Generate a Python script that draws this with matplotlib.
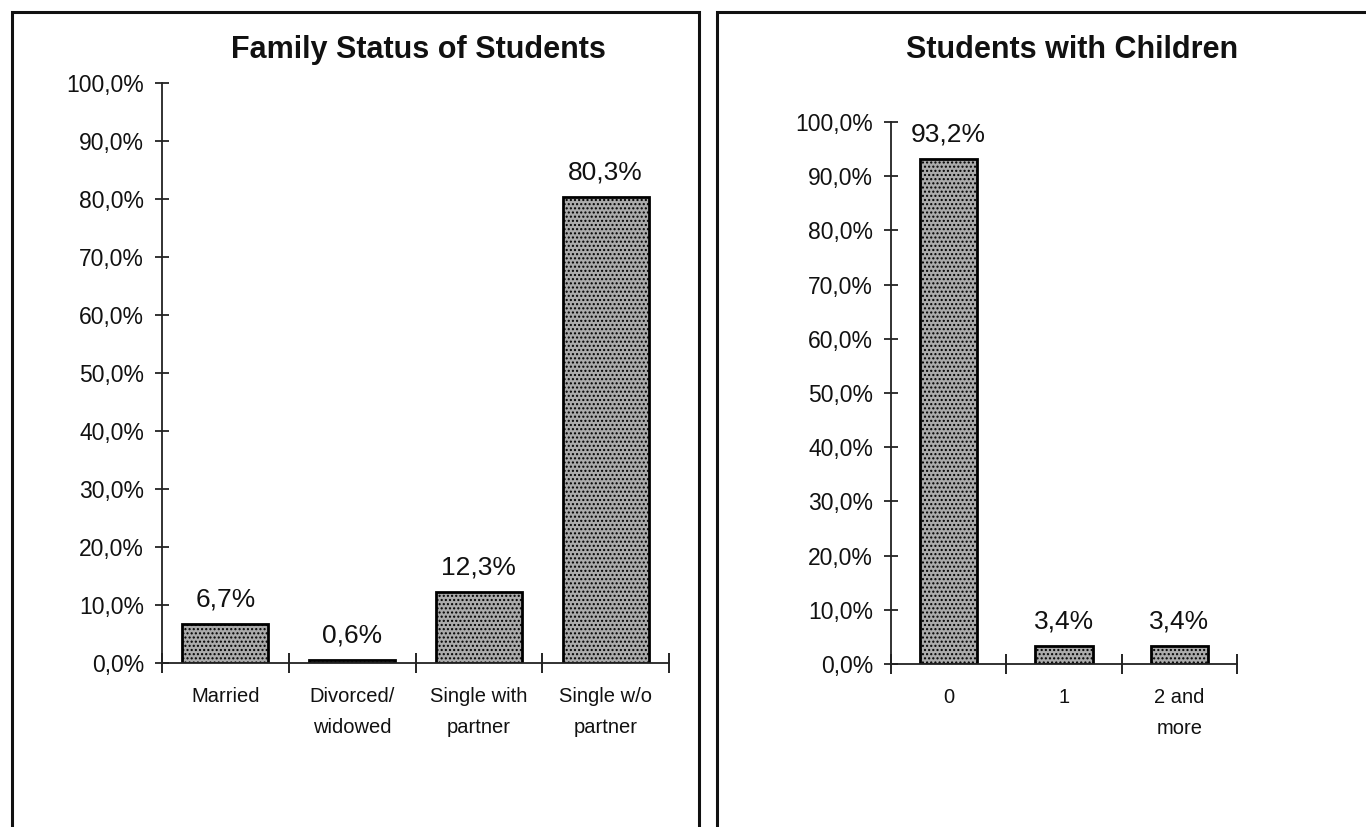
import matplotlib
matplotlib.use("Agg")
import matplotlib.pyplot as plt
from matplotlib.patches import Rectangle
from matplotlib.ticker import FixedLocator, FuncFormatter

plt.rcParams["font.family"] = ["Liberation Sans", "DejaVu Sans"]
plt.rcParams["hatch.linewidth"] = 1.0

# Survey results (share of respondents, %)
family_categories = ["Married", "Divorced/\nwidowed", "Single with\npartner", "Single w/o\npartner"]
family_share = [6.7, 0.6, 12.3, 80.3]

children_categories = ["0", "1", "2 and\nmore"]
children_share = [93.2, 3.4, 3.4]

y_ticks = list(range(0, 101, 10))

W, H = 1366, 827
fig = plt.figure(figsize=(W / 100, H / 100), dpi=100)
fig.patch.set_facecolor("white")


def px_rect(x0, y0, x1, y1):
    """Convert pixel box (top-left origin) to figure fractions [l, b, w, h]."""
    return [x0 / W, 1 - y1 / H, (x1 - x0) / W, (y1 - y0) / H]


def pct(v, _=None):
    return f"{v:.1f}".replace(".", ",") + "%"


def draw_panel(ax, cats, vals, bar_width):
    n = len(cats)
    xs = list(range(n))
    ax.bar(xs, vals, width=bar_width, facecolor="#ababab", edgecolor="black",
           linewidth=2.0, hatch="....", zorder=2)
    ax.set_xlim(-0.5, n - 0.5)
    ax.set_ylim(0, 100)
    ax.spines[["top", "right"]].set_visible(False)
    for s in ("left", "bottom"):
        ax.spines[s].set_linewidth(1.3)
        ax.spines[s].set_color("#222222")
    ax.yaxis.set_major_locator(FixedLocator(y_ticks))
    ax.yaxis.set_major_formatter(FuncFormatter(pct))
    ax.tick_params(axis="y", direction="inout", length=10, width=1.2,
                   labelsize=16.5, pad=8, colors="#111111")
    ax.set_xticks(xs)
    ax.set_xticklabels(cats, fontsize=14.5, linespacing=1.85)
    ax.set_xticks([i - 0.5 for i in range(n + 1)], minor=True)
    ax.tick_params(axis="x", which="major", length=0, pad=17, colors="#111111")
    ax.tick_params(axis="x", which="minor", direction="inout", length=14, width=1.2)
    for x, v in zip(xs, vals):
        ax.annotate(pct(v), (x, v), xytext=(0, 9), textcoords="offset points",
                    ha="center", va="bottom", fontsize=19, color="#111111")


ax1 = fig.add_axes(px_rect(162, 83, 669, 663))
draw_panel(ax1, family_categories, family_share, 0.68)

ax2 = fig.add_axes(px_rect(891, 122, 1237, 664))
draw_panel(ax2, children_categories, children_share, 0.5)

# Panel titles
fig.text(418 / W, 1 - 50 / H, "Family Status of Students", ha="center", va="center",
         fontsize=22, fontweight="bold", color="#111111")
fig.text(1072 / W, 1 - 50 / H, "Students with Children", ha="center", va="center",
         fontsize=22, fontweight="bold", color="#111111")

# Panel frames
for x0, x1 in ((12, 699), (717, 1380)):
    fig.add_artist(Rectangle((x0 / W, -0.05), (x1 - x0) / W, 1.05 - 12 / H,
                             transform=fig.transFigure, fill=False,
                             edgecolor="#111111", linewidth=2.2))

fig.savefig("out.png", dpi=100, facecolor="white")
